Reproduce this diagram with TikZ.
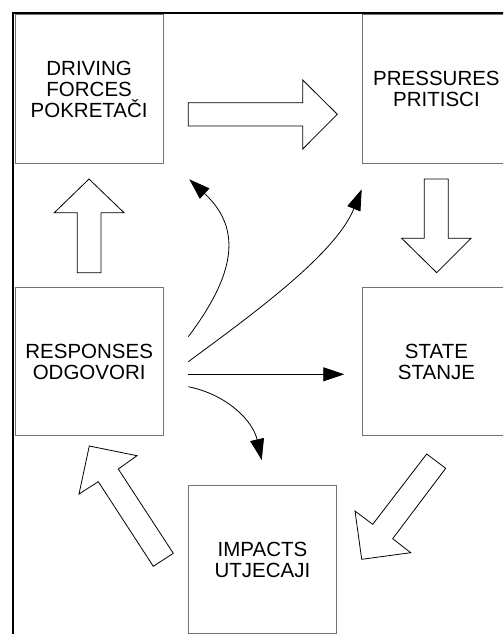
\documentclass[tikz,border=0pt]{standalone}
\usepackage{fontspec}
\setmainfont{Liberation Sans}
\usetikzlibrary{arrows.meta}
\begin{document}
\begin{tikzpicture}[x=1pt,y=-1pt,
  box/.style={draw=black!55, line width=1pt, minimum width=148.3pt, minimum height=148.3pt, inner sep=0pt, align=center, font=\fontsize{20.5}{21}\selectfont},
  blockarrow/.style={draw=black, line width=0.8pt, fill=white, line join=miter},
  link/.style={draw=black, line width=0.8pt, -{Triangle[length=21pt,width=14pt]}},
  frame/.style={draw=black, line width=2pt}]
\useasboundingbox (0,0) rectangle (503,634);
\clip (0,0) rectangle (503,634);
\fill[white] (0,0) rectangle (503,634);
\draw[frame] (12.8,13.2) rectangle (540,670);
% boxes
\node[box] (drv) at (89.15,89.15) {DRIVING\\FORCES\\POKRETAČI};
\node[box] (prs) at (436.45,89.15) {PRESSURES\\PRITISCI};
\node[box] (rsp) at (89.15,361.5) {RESPONSES\\ODGOVORI};
\node[box] (st) at (436.45,361.5) {STATE\\STANJE};
\node[box] (imp) at (262.5,559.7) {IMPACTS\\UTJECAJI};
% block arrows
\draw[blockarrow] (188.3,102.7) -- (302.7,102.7) -- (302.7,80) -- (337.3,114.3) -- (302.7,149) -- (302.7,126) -- (188.3,126) -- cycle;
\draw[blockarrow] (424.3,179) -- (448.3,179) -- (448.3,238.3) -- (471,238.3) -- (436.7,272.7) -- (401.7,238.3) -- (424.3,238.3) -- cycle;
\draw[blockarrow] (77.3,272.7) -- (101,272.7) -- (101,212.7) -- (124,212.7) -- (89,179) -- (54.3,212.7) -- (77.3,212.7) -- cycle;
\draw[blockarrow] (426.7,454) -- (445.7,468.3) -- (392.7,538.7) -- (410.7,552.7) -- (361.7,559.3) -- (355,511) -- (372.7,524.3) -- cycle;
\draw[blockarrow] (89.3,446) -- (137,455.7) -- (118.3,469) -- (173.3,553.3) -- (153.3,566.3) -- (98.3,481.7) -- (79,494) -- cycle;
% connector end points
\coordinate (ra) at (188.3,336.7);
\coordinate (rb) at (188.3,361.7);
\coordinate (rc) at (188.3,374.3);
\coordinate (rd) at (188.3,386.7);
\coordinate (ta) at (189.3,179.3);
\coordinate (tb) at (361.7,189.3);
\coordinate (tc) at (344.3,374.3);
\coordinate (td) at (261.7,460);
% connectors
\draw[link] (ra) .. controls (233.3,276.7) and (244.1,230.3) .. (ta);
\draw[link] (rb) .. controls (252.6,314.2) and (335.5,254.2) .. (tb);
\draw[link] (rc) -- (tc);
\draw[link] (rd) .. controls (227.5,394.7) and (252.9,421) .. (td);
\end{tikzpicture}
\end{document}
